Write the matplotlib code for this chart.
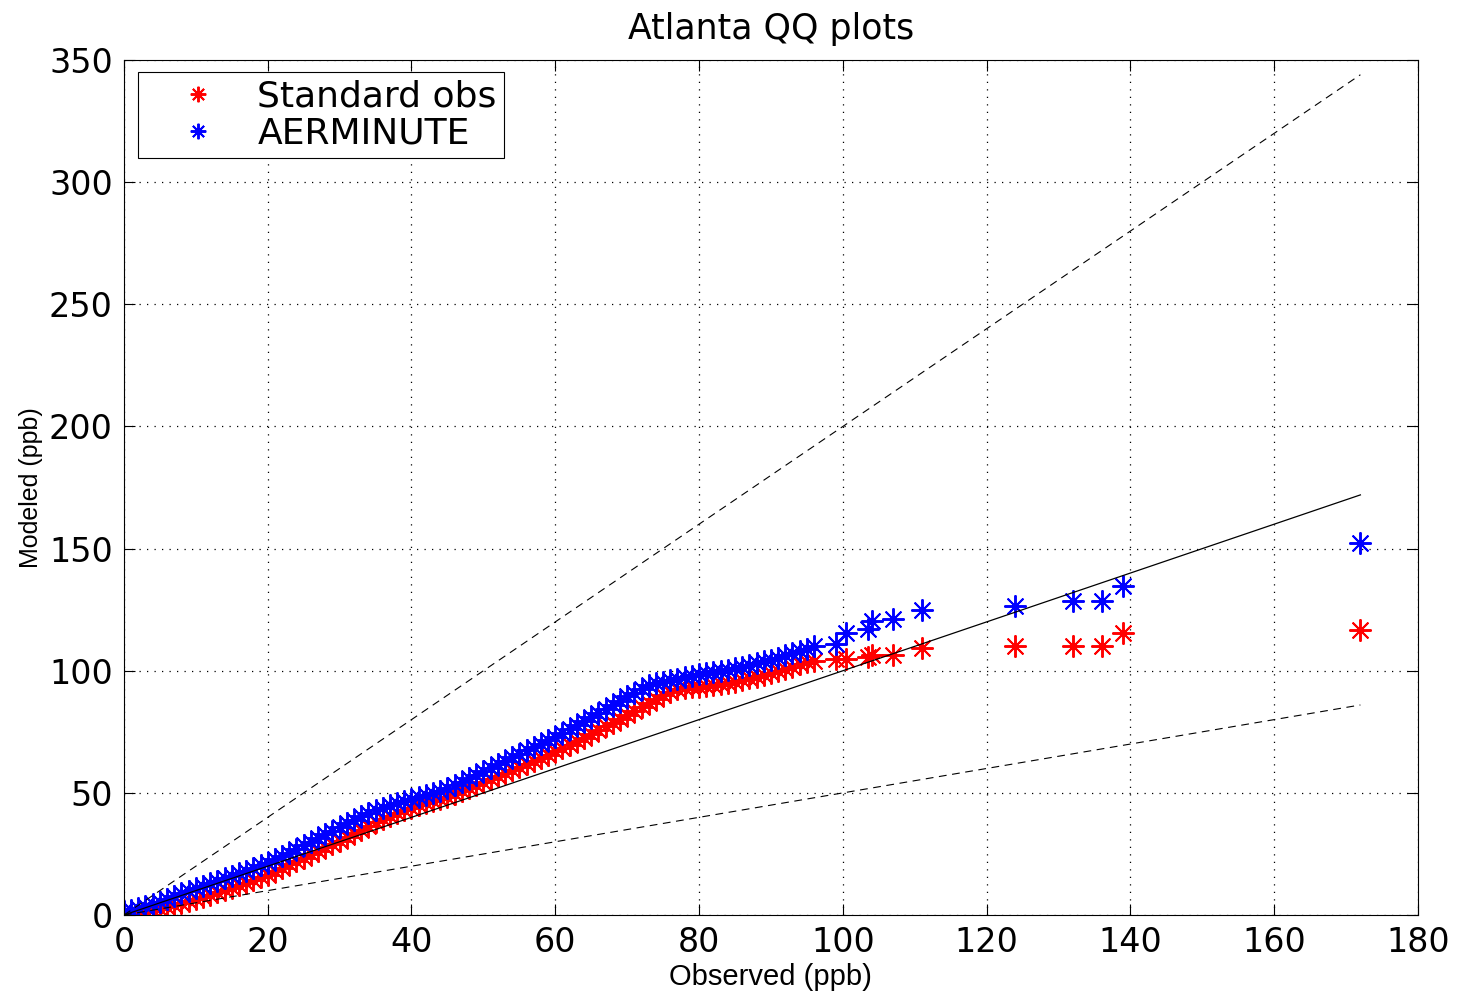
import numpy as np
import matplotlib
matplotlib.use('Agg')
import matplotlib.pyplot as plt

plt.rcParams['font.family'] = ['DejaVu Sans']

# Sorted observed concentrations (ppb)
observed = [0, 1, 2, 3, 4, 5, 6, 7, 8, 9,
            10, 11, 12, 13, 14, 15, 16, 17, 18, 19,
            20, 21, 22, 23, 24, 25, 26, 27, 28, 29,
            30, 31, 32, 33, 34, 35, 36, 37, 38, 39,
            40, 41, 42, 43, 44, 45, 46, 47, 48, 49,
            50, 51, 52, 53, 54, 55, 56, 57, 58, 59,
            60, 61, 62, 63, 64, 65, 66, 67, 68, 69,
            70, 71, 72, 73, 74, 75, 76, 77, 78, 79,
            80, 81, 82, 83, 84, 85, 86, 87, 88, 89,
            90, 91, 92, 93, 94, 95,
            96, 99, 100.5, 103.5, 104, 107, 111, 124, 132, 136, 139, 172]

# Sorted modeled concentrations, standard observations
standard_obs = [0.0, 0.4, 0.9, 1.4, 2.0, 2.6, 3.4, 4.2, 5.0, 5.8,
                6.6, 7.5, 8.4, 9.3, 10.2, 11.1, 12.1, 13.2, 14.3, 15.4,
                16.5, 17.9, 19.3, 20.7, 22.1, 23.5, 24.9, 26.3, 27.7, 29.1,
                30.5, 32.0, 33.5, 35.0, 36.5, 38.0, 39.3, 40.6, 41.8, 42.9,
                44.0, 44.9, 45.8, 46.7, 47.6, 48.5, 49.7, 50.9, 52.1, 53.3,
                54.5, 55.7, 56.9, 58.1, 59.3, 60.5, 61.8, 63.1, 64.4, 65.7,
                67.0, 68.4, 69.8, 71.2, 72.6, 74.0, 75.6, 77.2, 78.8, 80.4,
                82.0, 83.6, 85.2, 86.8, 88.4, 90.0, 91.3, 92.5, 92.9, 93.2,
                93.5, 93.9, 94.3, 94.7, 95.1, 95.5, 96.2, 96.9, 97.6, 98.3,
                99.0, 99.9, 100.8, 101.7, 102.6, 103.5,
                104.0, 105.0, 105.0, 105.7, 106.5, 106.5, 109.5, 110.0, 110.0, 110.0, 115.5, 116.5]

# Sorted modeled concentrations, AERMINUTE
aerminute = [1.5, 2.0, 2.8, 3.6, 4.5, 5.5, 6.6, 7.8, 8.9, 10.0,
             11.0, 12.0, 13.0, 14.0, 15.0, 16.0, 17.1, 18.2, 19.3, 20.4,
             21.5, 22.8, 24.1, 25.4, 26.9, 28.5, 30.0, 31.5, 33.0, 34.5,
             36.0, 37.5, 39.0, 40.5, 41.9, 43.0, 44.0, 45.0, 45.8, 46.7,
             47.5, 48.3, 49.1, 49.9, 50.9, 52.0, 53.3, 54.6, 56.0, 57.5,
             59.0, 60.4, 61.8, 63.2, 64.6, 66.0, 67.4, 68.8, 70.2, 71.6,
             73.0, 74.6, 76.2, 77.8, 79.4, 81.0, 82.7, 84.4, 86.1, 87.8,
             89.5, 91.0, 92.5, 94.0, 94.8, 95.5, 96.1, 96.7, 97.3, 97.9,
             98.5, 99.0, 99.5, 100.0, 100.5, 101.0, 101.7, 102.4, 103.1, 103.8,
             104.5, 105.4, 106.3, 107.2, 108.1, 109.0,
             110.0, 111.0, 115.5, 117.0, 120.5, 121.0, 124.8, 126.5, 128.7, 128.7, 134.7, 152.3]

obs = np.array(observed)

fig = plt.figure(figsize=(14.58, 9.93), dpi=100)
ax = fig.add_axes([0.085, 0.0785, 0.8875, 0.861])

# MATLAB-style asterisk marker
star = (8, 2, 0)
ax.plot(observed, standard_obs, linestyle='none', marker=star, markersize=16,
        markeredgewidth=1.4, color='r', label='Standard obs')
ax.plot(observed, aerminute, linestyle='none', marker=star, markersize=16,
        markeredgewidth=1.4, color='b', label='AERMINUTE')

# 1:1 line and factor-of-two lines
ax.plot(obs, obs, color='k', linewidth=0.9)
ax.plot(obs, 2 * obs, color='k', linewidth=0.8, dashes=(7, 5))
ax.plot(obs, 0.5 * obs, color='k', linewidth=0.8, dashes=(7, 5))

ax.set_xlim(0, 180)
ax.set_ylim(0, 350)
ax.set_xticks(range(0, 181, 20))
ax.set_yticks(range(0, 351, 50))
ax.grid(True, linestyle=(0, (1, 5)), color='k', linewidth=0.9)
ax.tick_params(direction='in', top=True, right=True, length=8, width=0.8,
               labelsize=24, pad=8)
for s in ax.spines.values():
    s.set_linewidth(0.8)

ax.set_title('Atlanta QQ plots', fontsize=25, pad=15)
ax.set_xlabel('Observed (ppb)', fontsize=21, labelpad=3,
              family=['Liberation Sans', 'DejaVu Sans'])
ax.set_ylabel('Modeled (ppb)', fontsize=18, labelpad=4,
              family=['Liberation Sans', 'DejaVu Sans'])

leg = ax.legend(loc='upper left', bbox_to_anchor=(0.011, 0.986), fontsize=26,
                frameon=True, fancybox=False, edgecolor='k', framealpha=1,
                handlelength=2.9, handletextpad=0.2, borderpad=0.2,
                borderaxespad=0, labelspacing=0.1, markerscale=0.7)
leg.get_frame().set_linewidth(0.8)

fig.savefig('out.png', dpi=100)
